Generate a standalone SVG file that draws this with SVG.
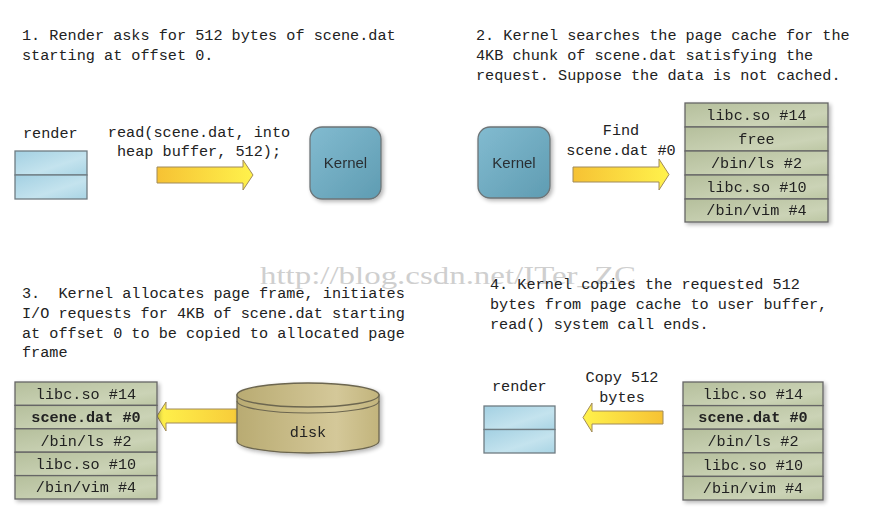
<svg xmlns="http://www.w3.org/2000/svg" width="872" height="525" viewBox="0 0 872 525">
<defs>
  <linearGradient id="gArrowR" x1="0" y1="0" x2="1" y2="0">
    <stop offset="0" stop-color="#f6c234"/>
    <stop offset="1" stop-color="#fff24c"/>
  </linearGradient>
  <linearGradient id="gArrowL" x1="1" y1="0" x2="0" y2="0">
    <stop offset="0" stop-color="#f6c234"/>
    <stop offset="1" stop-color="#fff24c"/>
  </linearGradient>
  <linearGradient id="gKernel" x1="0" y1="0" x2="1" y2="1">
    <stop offset="0" stop-color="#82bbd0"/>
    <stop offset="1" stop-color="#5f9cb2"/>
  </linearGradient>
  <linearGradient id="gRender" x1="0" y1="0" x2="1" y2="1">
    <stop offset="0" stop-color="#a3d0e2"/>
    <stop offset="0.6" stop-color="#c4e3ee"/>
    <stop offset="1" stop-color="#a9d4e4"/>
  </linearGradient>
  <linearGradient id="gPage" x1="0" y1="0" x2="1" y2="1">
    <stop offset="0" stop-color="#b5bf9c"/>
    <stop offset="0.7" stop-color="#cbd3b6"/>
    <stop offset="1" stop-color="#bcc6a3"/>
  </linearGradient>
  <linearGradient id="gDisk" x1="0" y1="0" x2="1" y2="0">
    <stop offset="0" stop-color="#b9ab72"/>
    <stop offset="0.7" stop-color="#d4c899"/>
    <stop offset="1" stop-color="#c2b47c"/>
  </linearGradient>
  <filter id="shadow" x="-20%" y="-20%" width="150%" height="150%">
    <feGaussianBlur in="SourceAlpha" stdDeviation="2"/>
    <feOffset dx="2" dy="2" result="b"/>
    <feComponentTransfer><feFuncA type="linear" slope="0.3"/></feComponentTransfer>
    <feMerge><feMergeNode/><feMergeNode in="SourceGraphic"/></feMerge>
  </filter>
  <style>
    .t { font-family: "Liberation Mono", "DejaVu Sans Mono", monospace; font-size: 15.2px; fill: #222; white-space: pre; }
    .c { text-anchor: middle; }
    .b { font-weight: bold; }
    .k { font-family: "Liberation Sans", Arial, sans-serif; font-size: 15px; fill: #2a2f33; text-anchor: middle; }
    .kern { fill: url(#gKernel); stroke: #6d7477; stroke-width: 1.3; }
    .rend { fill: url(#gRender); stroke: #6f7c82; stroke-width: 1.3; }
    .page { fill: url(#gPage); stroke: #666; stroke-width: 1.3; }
    .arrR { fill: url(#gArrowR); stroke: #a08a5a; stroke-width: 1; }
    .arrL { fill: url(#gArrowL); stroke: #a08a5a; stroke-width: 1; }
    .disk { fill: url(#gDisk); stroke: #6c6650; stroke-width: 1.3; }
    .wm { font-family: "Liberation Serif", "DejaVu Serif", serif; font-size: 26px; fill: #cfcfcf; }
  </style>
</defs>
<rect width="872" height="525" fill="#ffffff"/>

<!-- step captions -->
<g id="caption1">
  <text class="t" x="22" y="40">1. Render asks for 512 bytes of scene.dat</text>
  <text class="t" x="22" y="60">starting at offset 0.</text>
</g>
<g id="caption2">
  <text class="t" x="476" y="40">2. Kernel searches the page cache for the</text>
  <text class="t" x="476" y="60">4KB chunk of scene.dat satisfying the</text>
  <text class="t" x="476" y="80">request. Suppose the data is not cached.</text>
</g>
<g id="caption3">
  <text class="t" x="22" y="298">3.  Kernel allocates page frame, initiates</text>
  <text class="t" x="22" y="318">I/O requests for 4KB of scene.dat starting</text>
  <text class="t" x="22" y="338">at offset 0 to be copied to allocated page</text>
  <text class="t" x="22" y="357">frame</text>
</g>

<!-- watermark -->
<text class="wm" x="260" y="284" textLength="376" lengthAdjust="spacingAndGlyphs">http://blog.csdn.net/ITer_ZC</text>

<g id="caption4">
  <text class="t" x="490" y="289">4. Kernel copies the requested 512</text>
  <text class="t" x="490" y="309">bytes from page cache to user buffer,</text>
  <text class="t" x="490" y="329">read() system call ends.</text>
</g>

<!-- connectors -->
<g id="connectors">
  <g id="arrow1">
    <polygon class="arrR" points="157,167 243,167 243,160 253,175 243,190 243,183 157,183"/>
    <text class="t c" x="199" y="137">read(scene.dat, into</text>
    <text class="t c" x="199" y="156">heap buffer, 512);</text>
  </g>
  <g id="arrow2">
    <polygon class="arrR" points="573,167 659,167 659,159 669,174.5 659,190 659,182 573,182"/>
    <text class="t c" x="621" y="135">Find</text>
    <text class="t c" x="621" y="155">scene.dat #0</text>
  </g>
  <g id="arrow3">
    <polygon class="arrL" points="258,409 166,409 166,402 157,416 166,431 166,423 258,423"/>
  </g>
  <g id="arrow4">
    <polygon class="arrL" points="663,411 592,411 592,403 583,417.5 592,432 592,424 663,424"/>
    <text class="t c" x="622" y="382">Copy 512</text>
    <text class="t c" x="622" y="402">bytes</text>
  </g>
</g>

<!-- panel 1 nodes -->
<g id="render1">
  <text class="t" x="23" y="138">render</text>
  <rect class="rend" x="15" y="151" width="72" height="24"/>
  <rect class="rend" x="15" y="175" width="72" height="24"/>
</g>
<g id="kernel1" filter="url(#shadow)">
  <rect class="kern" x="310" y="127" width="71" height="72" rx="12"/>
  <text class="k" x="345.5" y="168">Kernel</text>
</g>

<!-- panel 2 nodes -->
<g id="kernel2" filter="url(#shadow)">
  <rect class="kern" x="478" y="127" width="72" height="71" rx="12"/>
  <text class="k" x="514" y="168">Kernel</text>
</g>
<g id="pagecache2" filter="url(#shadow)">
  <rect class="page" x="685" y="103" width="143" height="24"/>
  <rect class="page" x="685" y="127" width="143" height="24"/>
  <rect class="page" x="685" y="151" width="143" height="24"/>
  <rect class="page" x="685" y="175" width="143" height="24"/>
  <rect class="page" x="685" y="199" width="143" height="23"/>
  <text class="t c" x="756.5" y="120">libc.so #14</text>
  <text class="t c" x="756.5" y="144">free</text>
  <text class="t c" x="756.5" y="168">/bin/ls #2</text>
  <text class="t c" x="756.5" y="192">libc.so #10</text>
  <text class="t c" x="756.5" y="215">/bin/vim #4</text>
</g>

<!-- panel 3 nodes -->
<g id="pagecache3" filter="url(#shadow)">
  <rect class="page" x="15" y="382" width="142" height="23.4"/>
  <rect class="page" x="15" y="405.4" width="142" height="23.4"/>
  <rect class="page" x="15" y="428.8" width="142" height="23.4"/>
  <rect class="page" x="15" y="452.2" width="142" height="23.4"/>
  <rect class="page" x="15" y="475.6" width="142" height="23.4"/>
  <text class="t c" x="86" y="398.7">libc.so #14</text>
  <text class="t c b" x="86" y="422.1">scene.dat #0</text>
  <text class="t c" x="86" y="445.5">/bin/ls #2</text>
  <text class="t c" x="86" y="468.9">libc.so #10</text>
  <text class="t c" x="86" y="492.3">/bin/vim #4</text>
</g>
<g id="disk" filter="url(#shadow)">
  <path class="disk" d="M237,395 L237,441 A71,12 0 0 0 379,441 L379,395 Z"/>
  <ellipse class="disk" cx="308" cy="395" rx="71" ry="12"/>
  <path d="M237,401 A71,12 0 0 0 379,401" fill="none" stroke="#6c6650" stroke-width="1.2"/>
  <text class="t c" x="308" y="437">disk</text>
</g>

<!-- panel 4 nodes -->
<g id="render4">
  <text class="t" x="492" y="391">render</text>
  <rect class="rend" x="484" y="406" width="71" height="23.5"/>
  <rect class="rend" x="484" y="429.5" width="71" height="23.5"/>
</g>
<g id="pagecache4" filter="url(#shadow)">
  <rect class="page" x="683" y="382" width="140" height="23.6"/>
  <rect class="page" x="683" y="405.6" width="140" height="23.6"/>
  <rect class="page" x="683" y="429.2" width="140" height="23.6"/>
  <rect class="page" x="683" y="452.8" width="140" height="23.6"/>
  <rect class="page" x="683" y="476.4" width="140" height="23.6"/>
  <text class="t c" x="753" y="398.8">libc.so #14</text>
  <text class="t c b" x="753" y="422.4">scene.dat #0</text>
  <text class="t c" x="753" y="446">/bin/ls #2</text>
  <text class="t c" x="753" y="469.6">libc.so #10</text>
  <text class="t c" x="753" y="493.2">/bin/vim #4</text>
</g>
</svg>
